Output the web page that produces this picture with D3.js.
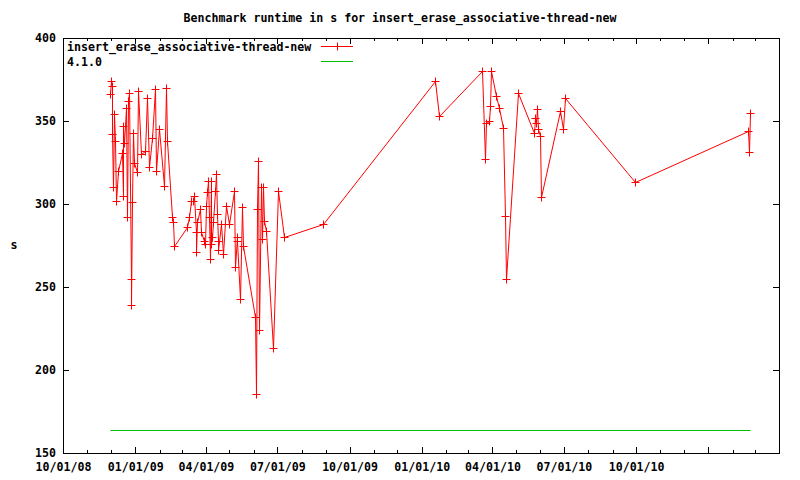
<!DOCTYPE html>
<html>
<head>
<meta charset="utf-8">
<script src="https://cdn.jsdelivr.net/npm/d3@7"></script>
<style>
  body { margin: 0; background: #fff; }
  svg text { font-family: "DejaVu Sans Mono", monospace; font-weight: bold; font-size: 11.6px; fill: #000; }
</style>
</head>
<body>
<svg id="chart" width="800" height="480"></svg>
<script>
// Chart data
const runDates = [
  "2008-11-30","2008-12-01","2008-12-02","2008-12-03","2008-12-04","2008-12-05","2008-12-06","2008-12-07",
  "2008-12-10","2008-12-15","2008-12-16","2008-12-17","2008-12-18","2008-12-20","2008-12-21","2008-12-23",
  "2008-12-24","2008-12-26","2008-12-27","2008-12-28","2008-12-29","2008-12-30","2009-01-03","2009-01-05",
  "2009-01-08","2009-01-14","2009-01-16","2009-01-19","2009-01-22","2009-01-26","2009-01-28","2009-01-31",
  "2009-02-07","2009-02-09","2009-02-10","2009-02-17","2009-02-18","2009-02-19",
  "2009-03-08","2009-03-11","2009-03-13","2009-03-15","2009-03-17","2009-03-19","2009-03-20","2009-03-21",
  "2009-03-25","2009-03-26","2009-03-30","2009-03-31","2009-04-01","2009-04-03","2009-04-04","2009-04-05",
  "2009-04-06","2009-04-07","2009-04-08","2009-04-09","2009-04-10","2009-04-13","2009-04-14","2009-04-15",
  "2009-04-16","2009-04-17","2009-04-20","2009-04-23","2009-04-26","2009-04-30","2009-05-07","2009-05-08",
  "2009-05-10","2009-05-11","2009-05-14","2009-05-17","2009-05-18",
  "2009-06-02","2009-06-04","2009-06-05","2009-06-07","2009-06-08","2009-06-10","2009-06-12","2009-06-13",
  "2009-06-14","2009-06-16","2009-06-26","2009-07-02","2009-07-09","2009-08-28",
  "2010-01-18","2010-01-23","2010-03-19","2010-03-22","2010-03-24","2010-03-27","2010-03-29","2010-03-30",
  "2010-04-06","2010-04-09","2010-04-14","2010-04-17","2010-04-18","2010-05-03","2010-05-24","2010-05-25",
  "2010-05-26","2010-05-28","2010-05-29","2010-06-01","2010-06-02","2010-06-26","2010-06-30","2010-07-02",
  "2010-09-30","2011-02-21","2011-02-22","2011-02-23"
];
const runValues = [
  366, 374, 371, 342, 310, 354, 338, 302,
  320, 331, 305, 347, 337, 358, 292, 362,
  367, 255, 239, 301, 343, 325, 319, 368,
  330, 332, 364, 322, 340, 369, 320, 345,
  311, 370, 338, 292, 289, 275,
  286, 292, 302, 302, 305, 283, 271, 289,
  297, 283, 278, 276, 299, 307, 314, 292,
  267, 314, 276, 280, 289, 308, 318, 294,
  278, 272, 288, 270, 299, 288, 308, 262,
  280, 278, 243, 298, 275,
  232, 185.5, 297, 326, 224, 310, 279, 310,
  290, 284, 213, 308, 280, 288,
  374, 353, 380, 327, 349, 350, 359, 380,
  365, 358, 346, 293, 255, 367, 343, 352,
  349, 357, 345, 341, 304, 356, 345, 364,
  313, 344, 331.5, 355
];
const baseDates = ["2008-11-30", "2011-02-23"];
const baseValues = [164, 164];

const seriesNames = ["insert_erase_associative-thread-new", "4.1.0"];
const tickDates = ["2008-10-01","2009-01-01","2009-04-01","2009-07-01","2009-10-01","2010-01-01",
                   "2010-04-01","2010-07-01","2010-10-01","2011-01-01","2011-04-01"];
const tickLabels = ["10/01/08","01/01/09","04/01/09","07/01/09","10/01/09","01/01/10",
                    "04/01/10","07/01/10","10/01/10","",""];
const yTicks = [150, 200, 250, 300, 350, 400];

// Setup
const parse = d3.timeParse("%Y-%m-%d");
const svg = d3.select("#chart");
const plotLeft = 63, plotRight = 779, plotTop = 38, plotBottom = 453;
const red = "#ff0000", green = "#00c000";

const x = d3.scaleTime().domain([parse("2008-10-01"), parse("2011-04-01")]).range([plotLeft, plotRight]);
const y = d3.scaleLinear().domain([150, 400]).range([plotBottom, plotTop]);
const px = v => Math.round(v) + 0.5;

const runs = runDates.map((d, i) => ({ date: parse(d), value: runValues[i] }));
const base = baseDates.map((d, i) => ({ date: parse(d), value: baseValues[i] }));

// Title and y label
svg.append("text").attr("x", 400).attr("y", 22).attr("text-anchor", "middle")
   .text("Benchmark runtime in s for insert_erase_associative-thread-new");
svg.append("text").attr("x", 14).attr("y", 249).attr("text-anchor", "middle").text("s");

// Axes (ticks point inwards, mirrored on all sides)
const majorDates = tickDates.map(parse);
const minorDates = d3.timeMonth.range(parse("2008-10-01"), parse("2011-04-02"));

function styleAxis(g) {
  g.select(".domain").remove();
  g.selectAll("line").attr("stroke", "#000").attr("shape-rendering", "crispEdges");
  g.selectAll("text").attr("font-family", null).attr("font-size", null);
  g.attr("font-family", null).attr("font-size", null);
}

svg.append("g").attr("transform", `translate(0,${plotBottom})`)
   .call(d3.axisBottom(x).tickValues(minorDates).tickSize(-3).tickFormat(""))
   .call(styleAxis);
svg.append("g").attr("transform", `translate(0,${plotTop})`)
   .call(d3.axisTop(x).tickValues(minorDates).tickSize(-3).tickFormat(""))
   .call(styleAxis);
svg.append("g").attr("transform", `translate(0,${plotBottom})`)
   .call(d3.axisBottom(x).tickValues(majorDates).tickSize(-6).tickPadding(10)
         .tickFormat((d, i) => tickLabels[i]))
   .call(styleAxis);
svg.append("g").attr("transform", `translate(0,${plotTop})`)
   .call(d3.axisTop(x).tickValues(majorDates).tickSize(-6).tickFormat(""))
   .call(styleAxis);
svg.append("g").attr("transform", `translate(${plotLeft},0)`)
   .call(d3.axisLeft(y).tickValues(yTicks).tickSize(-6).tickPadding(7))
   .call(styleAxis);
svg.append("g").attr("transform", `translate(${plotRight},0)`)
   .call(d3.axisRight(y).tickValues(yTicks).tickSize(-6).tickFormat(""))
   .call(styleAxis);

// Series
const line = d3.line().x(d => px(x(d.date))).y(d => px(y(d.value)));
const plus = "M-4,0H4M0,-4V4";

svg.append("path").datum(base).attr("d", line)
   .attr("fill", "none").attr("stroke", green).attr("stroke-width", 1);

svg.append("path").datum(runs).attr("d", line)
   .attr("fill", "none").attr("stroke", red).attr("stroke-width", 1);

svg.append("g").selectAll("path").data(runs).enter().append("path")
   .attr("d", plus)
   .attr("transform", d => `translate(${px(x(d.date))},${px(y(d.value))})`)
   .attr("stroke", red).attr("stroke-width", 1).attr("fill", "none");

// Legend
const legend = svg.append("g");
const legendRows = [{ name: seriesNames[0], color: red, marker: true, y: 46 },
                    { name: seriesNames[1], color: green, marker: false, y: 61 }];
legendRows.forEach(r => {
  legend.append("text").attr("x", 67).attr("y", r.y + 5).text(r.name);
  legend.append("path").attr("d", `M321,${r.y + 0.5}H353`)
        .attr("stroke", r.color).attr("stroke-width", 1).attr("fill", "none");
  if (r.marker) {
    legend.append("path").attr("d", plus).attr("transform", `translate(337.5,${r.y + 0.5})`)
          .attr("stroke", r.color).attr("stroke-width", 1).attr("fill", "none");
  }
});

// Frame
svg.append("rect").attr("x", plotLeft + 0.5).attr("y", plotTop + 0.5)
   .attr("width", plotRight - plotLeft).attr("height", plotBottom - plotTop)
   .attr("fill", "none").attr("stroke", "#000");
</script>
</body>
</html>
